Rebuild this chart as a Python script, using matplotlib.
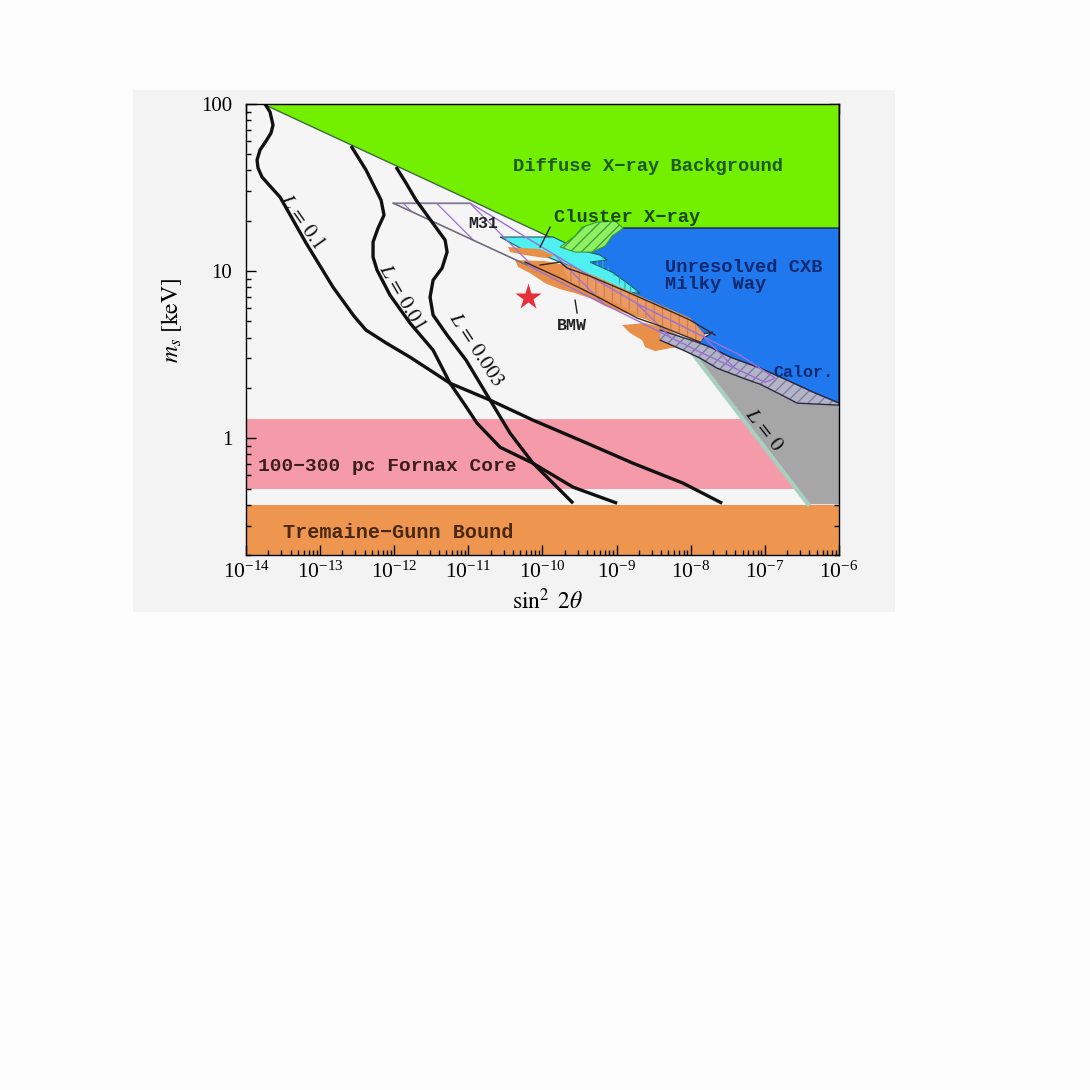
import matplotlib
matplotlib.use("Agg")
import matplotlib.pyplot as plt
from matplotlib.patches import Rectangle
from matplotlib.ticker import LogLocator, NullFormatter
import numpy as np

plt.rcParams['font.family'] = ['Liberation Serif', 'DejaVu Serif']
plt.rcParams['mathtext.fontset'] = 'stix'
plt.rcParams['hatch.linewidth'] = 0.9

# ---- data (log10 sin^2 2theta, log10 m_s/keV) ----
# diffuse x-ray background
dxb_lx = [-13.77, -6.0, -6.0, -8.91, -9.36]
dxb_lm = [2.0, 2.0, 1.257, 1.257, 1.092]
# unresolved CXB / Milky Way
cxb_lx = [-8.912, -6.0, -6.0, -6.348, -6.699, -7.063, -7.468, -7.738, -7.914, -7.698,
          -7.914, -8.143, -8.318, -8.777, -9.047, -9.223, -9.493, -9.695, -9.493, -9.223]
cxb_lm = [1.257, 1.257, 0.210, 0.275, 0.347, 0.419, 0.485, 0.545, 0.575, 0.635,
          0.617, 0.695, 0.749, 0.826, 0.886, 0.934, 1.018, 1.078, 1.156, 1.186]
# cluster x-ray (cyan)
clu_lx = [-10.572, -9.857, -9.493, -9.223, -9.128, -9.358, -9.061, -8.818, -8.683,
          -8.885, -9.223, -9.628, -9.965, -10.302]
clu_lm = [1.204, 1.204, 1.126, 1.096, 1.066, 1.054, 0.994, 0.916, 0.868,
          0.874, 0.946, 1.030, 1.090, 1.138]
# cluster x-ray (hatched green)
clg_lx = [-9.762, -9.560, -9.466, -9.263, -9.020, -8.912, -9.061, -9.155, -9.331, -9.560]
clg_lm = [1.144, 1.210, 1.263, 1.293, 1.299, 1.257, 1.210, 1.150, 1.114, 1.114]
# BMW (orange patches)
bmw1_lx = [-10.464, -10.032, -9.830, -9.965, -10.235, -10.437]
bmw1_lm = [1.144, 1.132, 1.090, 1.078, 1.096, 1.114]
bmw2_lx = [-10.370, -9.965, -9.695, -9.223, -8.683, -8.143, -7.873, -8.008, -8.413, -8.615,
           -8.885, -9.155, -9.358, -9.560, -9.762, -9.965, -10.167, -10.329]
bmw2_lm = [1.066, 1.060, 1.036, 0.952, 0.838, 0.731, 0.647, 0.611, 0.671, 0.713,
           0.749, 0.790, 0.838, 0.868, 0.892, 0.928, 0.988, 1.024]
bmw3_lx = [-8.926, -8.615, -8.346, -8.143, -8.035, -8.278, -8.480, -8.615, -8.656, -8.818]
bmw3_lm = [0.677, 0.689, 0.659, 0.611, 0.551, 0.539, 0.521, 0.545, 0.587, 0.629]
bmwh_lx = [-9.762, -9.223, -8.683, -8.008, -7.806, -7.873, -8.413, -9.088, -9.628]
bmwh_lm = [1.054, 0.958, 0.850, 0.719, 0.617, 0.575, 0.677, 0.826, 0.934]
bmwl1_lx = [-10.032, -9.762, -9.668, -9.358, -8.912, -8.453, -8.008, -7.671]
bmwl1_lm = [1.036, 1.054, 1.018, 0.970, 0.886, 0.796, 0.707, 0.617]
bmwl2_lx = [-10.235, -9.762, -9.223, -8.723, -8.413, -8.143, -7.873]
bmwl2_lm = [1.054, 0.958, 0.838, 0.719, 0.671, 0.623, 0.575]
# M31
m31_lx = [-12.016, -10.977, -10.640, -10.032, -9.223, -8.683, -8.143, -7.333, -6.861,
          -6.996, -7.873, -8.683, -9.493, -10.208]
m31_lm = [1.407, 1.407, 1.317, 1.150, 0.934, 0.796, 0.677, 0.497, 0.359,
          0.335, 0.515, 0.695, 0.874, 1.036]
# calorimeter
cal_lx = [-8.413, -7.914, -7.738, -7.468, -7.063, -6.699, -6.348, -6.0, -6.0, -6.564,
          -6.794, -7.063, -7.293, -7.644, -7.873, -8.103, -8.413]
cal_lm = [0.647, 0.575, 0.545, 0.485, 0.419, 0.347, 0.275, 0.210, 0.198, 0.210,
          0.263, 0.323, 0.359, 0.419, 0.479, 0.527, 0.587]
# L = 0 region
l0_lx = [-8.008, -6.416, -6.0, -6.0, -6.564, -6.794, -7.063, -7.293, -7.644, -7.873]
l0_lm = [0.527, -0.395, -0.395, 0.198, 0.210, 0.263, 0.323, 0.359, 0.419, 0.479]
# horizontal bands (keV)
fornax_band = (0.50, 1.30)
tg_band = (0.20, 0.40)

# lepton asymmetry curves
L01_lx = [-13.744, -13.676, -13.636, -13.663, -13.730, -13.811, -13.851, -13.838, -13.784,
          -13.676, -13.541, -13.190, -12.826, -12.542, -12.381, -12.110, -11.787, -11.247,
          -10.707, -10.127, -9.398, -8.777, -8.103, -7.576]
L01_lm = [2.0, 1.952, 1.874, 1.826, 1.778, 1.725, 1.665, 1.617, 1.563,
          1.509, 1.443, 1.168, 0.904, 0.730, 0.647, 0.570, 0.485, 0.329,
          0.228, 0.108, -0.030, -0.150, -0.269, -0.389]
L001_lx = [-12.583, -12.381, -12.178, -12.138, -12.219, -12.286, -12.286, -12.232, -12.057,
           -11.787, -11.476, -11.247, -11.045, -10.883, -10.572, -10.127, -9.587, -8.993]
L001_lm = [1.749, 1.605, 1.425, 1.335, 1.257, 1.174, 1.084, 1.006, 0.856,
           0.689, 0.527, 0.329, 0.198, 0.090, -0.054, -0.150, -0.293, -0.389]
L0003_lx = [-11.976, -11.841, -11.706, -11.490, -11.314, -11.287, -11.355, -11.476, -11.517,
            -11.476, -11.287, -11.031, -10.707, -10.437, -10.127, -9.857, -9.587]
L0003_lm = [1.623, 1.527, 1.425, 1.293, 1.186, 1.114, 1.018, 0.946, 0.844,
            0.737, 0.617, 0.467, 0.228, 0.030, -0.150, -0.269, -0.389]

star_lx, star_lm = -10.194, 0.844


def P(lx, lm):
    return 10 ** np.array(lx), 10 ** np.array(lm)


fig = plt.figure(figsize=(10.9, 10.9), dpi=100, facecolor='#fdfdfd')
fig.patches.append(Rectangle((0.122, 0.4385), 0.699, 0.479, transform=fig.transFigure,
                             facecolor='#f3f3f3', edgecolor='none', zorder=-10))
ax = fig.add_axes([0.2257, 0.4908, 0.544, 0.4138])
ax.set_facecolor('#f5f5f5')
ax.set_xscale('log')
ax.set_yscale('log')
ax.set_xlim(1e-14, 1e-6)
ax.set_ylim(0.2, 100)

# bands
ax.axhspan(*fornax_band, color='#f59aa8', lw=0, zorder=1)
ax.axhspan(*tg_band, color='#ee9650', lw=0, zorder=1)

ax.fill(*P(dxb_lx, dxb_lm), facecolor='#72f000', edgecolor='#3f6a3f', lw=1, zorder=2)
ax.fill(*P(cxb_lx, cxb_lm), facecolor='#1f78ee', edgecolor='#1a2f60', lw=1, zorder=3)
ax.fill(*P(clu_lx, clu_lm), facecolor='#4ef0f0', edgecolor='#1a5a60', lw=0.8, zorder=4)
ax.fill(*P(clu_lx[3:10], clu_lm[3:10]), facecolor='none', edgecolor='#3aa8b8', hatch='|||',
        lw=0, zorder=4)
ax.fill(*P(clg_lx, clg_lm), facecolor='#8ef060', edgecolor='#3a9a3a', hatch='///', lw=0.8, zorder=4)
for lx, lm in [(bmw1_lx, bmw1_lm), (bmw2_lx, bmw2_lm), (bmw3_lx, bmw3_lm)]:
    ax.fill(*P(lx, lm), facecolor='#e8904a', edgecolor='none', zorder=5)
ax.fill(*P(bmwh_lx, bmwh_lm), facecolor='#eb9a64', edgecolor='#c98050', hatch='||', lw=0, zorder=5)
ax.fill(*P(l0_lx, l0_lm), facecolor='#a6a6a6', edgecolor='none', zorder=5)
ax.plot(*P(l0_lx[:2], l0_lm[:2]), color='#a8cfc0', lw=3, zorder=5)
ax.fill(*P(cal_lx, cal_lm), facecolor='#b4b4c8', edgecolor='#7a7a98', hatch='///', lw=0, zorder=6)
ax.plot(*P(cal_lx, cal_lm), color='#2a2a45', lw=1, zorder=6)
ax.fill(*P(m31_lx, m31_lm), facecolor='none', edgecolor='#9a70d8', hatch='\\', lw=1, zorder=7)
ax.plot(*P(m31_lx[:2], m31_lm[:2]), color='#808080', lw=1, zorder=7)
ax.plot(*P([m31_lx[0], m31_lx[-1]], [m31_lm[0], m31_lm[-1]]), color='#707070', lw=1, zorder=7)
ax.plot(*P(bmwl1_lx, bmwl1_lm), color='#3a2a20', lw=1, zorder=7)
ax.plot(*P(bmwl2_lx, bmwl2_lm), color='#3a2a20', lw=1, zorder=7)

for lx, lm in [(L01_lx, L01_lm), (L001_lx, L001_lm), (L0003_lx, L0003_lm)]:
    ax.plot(*P(lx, lm), color='#111111', lw=2.4, zorder=8, solid_capstyle='butt',
            solid_joinstyle='round')

ax.plot(10 ** star_lx, 10 ** star_lm, marker='*', color='#e5303a', ms=20, mec='none', zorder=9)

# pointer lines
ax.plot(*P([-9.897, -10.032], [1.263, 1.144]), color='#222222', lw=1, zorder=9)
ax.plot(*P([-9.560, -9.533], [0.826, 0.749]), color='#222222', lw=1, zorder=9)

mono = dict(family='Liberation Mono', fontweight='bold', zorder=10)
ax.text(10 ** -8.575, 10 ** 1.623, 'Diffuse X\u2212ray Background', color='#1e5a14',
        fontsize=13.5, ha='center', va='center', **mono)
ax.text(10 ** -8.858, 10 ** 1.323, 'Cluster X\u2212ray', color='#1a4a1a',
        fontsize=13.5, ha='center', va='center', **mono)
ax.text(10 ** -8.346, 10 ** 1.024, 'Unresolved CXB', color='#0f2a70',
        fontsize=13.5, ha='left', va='center', **mono)
ax.text(10 ** -8.346, 10 ** 0.922, 'Milky Way', color='#0f2a70',
        fontsize=13.5, ha='left', va='center', **mono)
ax.text(10 ** -6.888, 10 ** 0.395, 'Calor.', color='#0f2a70',
        fontsize=12, ha='left', va='center', **mono)
ax.text(10 ** -10.802, 10 ** 1.287, 'M31', color='#222222',
        fontsize=12, ha='center', va='center', **mono)
ax.text(10 ** -9.601, 10 ** 0.677, 'BMW', color='#222222',
        fontsize=12, ha='center', va='center', **mono)
ax.text(10 ** -13.838, 10 ** -0.168, '100\u2212300 pc Fornax Core', color='#3a1e1e',
        fontsize=14, ha='left', va='center', **mono)
ax.text(10 ** -13.5, 10 ** -0.563, 'Tremaine\u2212Gunn Bound', color='#4a2814',
        fontsize=14.5, ha='left', va='center', **mono)

lab = dict(fontsize=15, color='#111111', ha='center', va='center', zorder=10)
ax.text(10 ** -13.258, 10 ** 1.293, r'$L\,=\,0.1$', rotation=-55, **lab)
ax.text(10 ** -11.908, 10 ** 0.844, r'$L\,=\,0.01$', rotation=-60, **lab)
ax.text(10 ** -10.910, 10 ** 0.527, r'$L\,=\,0.003$', rotation=-57, **lab)
ax.text(10 ** -7.023, 10 ** 0.048, r'$L\,=\,0$', rotation=-52, **lab)

ax.xaxis.set_major_locator(LogLocator(base=10, numticks=20))
ax.xaxis.set_minor_locator(LogLocator(base=10, subs=np.arange(2, 10), numticks=100))
ax.xaxis.set_minor_formatter(NullFormatter())
ax.set_yticks([1, 10, 100])
ax.set_yticklabels(['1', '10', '100'])
ax.yaxis.set_minor_locator(LogLocator(base=10, subs=np.arange(2, 10), numticks=100))
ax.yaxis.set_minor_formatter(NullFormatter())
ax.tick_params(which='both', direction='in', top=True, right=True, width=1)
ax.tick_params(which='major', length=7)
ax.tick_params(which='minor', length=3.5)
ax.tick_params(axis='y', pad=10, labelsize=15)
ax.tick_params(axis='x', pad=5, labelsize=15.5)
ax.set_xlabel(r'$\sin^2\ 2\theta$', fontsize=17)
ax.set_ylabel(r'$m_s\ [\mathrm{keV}]$', fontsize=17)
ax.xaxis.set_label_coords(0.509, -0.075)
ax.yaxis.set_label_coords(-0.105, 0.52)
for s in ax.spines.values():
    s.set_linewidth(1)
    s.set_zorder(11)

fig.savefig('out.png', dpi=100, facecolor=fig.get_facecolor())
